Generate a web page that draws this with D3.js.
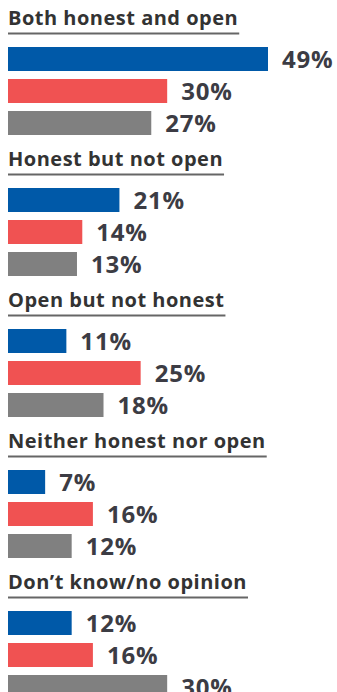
<!DOCTYPE html>
<html>
<head>
<meta charset="utf-8">
<script src="https://cdn.jsdelivr.net/npm/d3@7"></script>
<style>
  body { margin: 0; background: #fff; }
  svg { display: block; }
</style>
</head>
<body>
<svg id="chart"></svg>
<script>
var categories = ["Both honest and open", "Honest but not open", "Open but not honest", "Neither honest nor open", "Don\u2019t know/no opinion"];
var seriesBlue = [49, 21, 11, 7, 12];
var seriesRed = [30, 14, 25, 16, 16];
var seriesGray = [27, 13, 18, 12, 30];
var seriesColors = ["#0059a8", "#f05252", "#808080"];

var svg = d3.select("#chart")
    .attr("width", 337)
    .attr("height", 692);

var groupStep = 141;
var yGroup = d3.scaleBand()
    .domain(categories)
    .range([0, groupStep * categories.length]);

var xScale = d3.scaleLinear().domain([0, 49]).range([0, 260]);
var yBar = d3.scaleBand().domain([0, 1, 2]).range([0, 88]).paddingInner(0.25).paddingOuter(0);

var groups = svg.selectAll(".group")
    .data(categories)
    .enter().append("g")
    .attr("class", "group")
    .attr("transform", d => "translate(8," + yGroup(d) + ")");

groups.append("text")
    .attr("x", 0)
    .attr("y", 25)
    .attr("font-family", "'Open Sans', sans-serif")
    .attr("font-weight", 700)
    .attr("font-size", 20)
    .attr("letter-spacing", 0.5)
    .attr("fill", "#333")
    .text(d => d);

groups.each(function() {
    var g = d3.select(this);
    var w = g.select("text").node().getComputedTextLength();
    g.append("line")
        .attr("x1", 0)
        .attr("x2", w + 1)
        .attr("y1", 33.5)
        .attr("y2", 33.5)
        .attr("stroke", "#666")
        .attr("stroke-width", 2);
});

groups.each(function(d, i) {
    var vals = [seriesBlue[i], seriesRed[i], seriesGray[i]];
    var g = d3.select(this).append("g").attr("transform", "translate(0,47)");
    g.selectAll("rect")
        .data(vals)
        .enter().append("rect")
        .attr("x", 0)
        .attr("y", (v, j) => yBar(j))
        .attr("width", v => xScale(v))
        .attr("height", yBar.bandwidth())
        .attr("fill", (v, j) => seriesColors[j]);
    g.selectAll(".val")
        .data(vals)
        .enter().append("text")
        .attr("class", "val")
        .attr("x", v => xScale(v) + 14)
        .attr("y", (v, j) => yBar(j) + yBar.bandwidth() / 2)
        .attr("dy", "0.36em")
        .attr("font-family", "'Open Sans', sans-serif")
        .attr("font-weight", 700)
        .attr("font-size", 24)
        .attr("letter-spacing", 0.8)
        .attr("fill", "#3c3c44")
        .text(v => v + "%");
});
</script>
</body>
</html>
